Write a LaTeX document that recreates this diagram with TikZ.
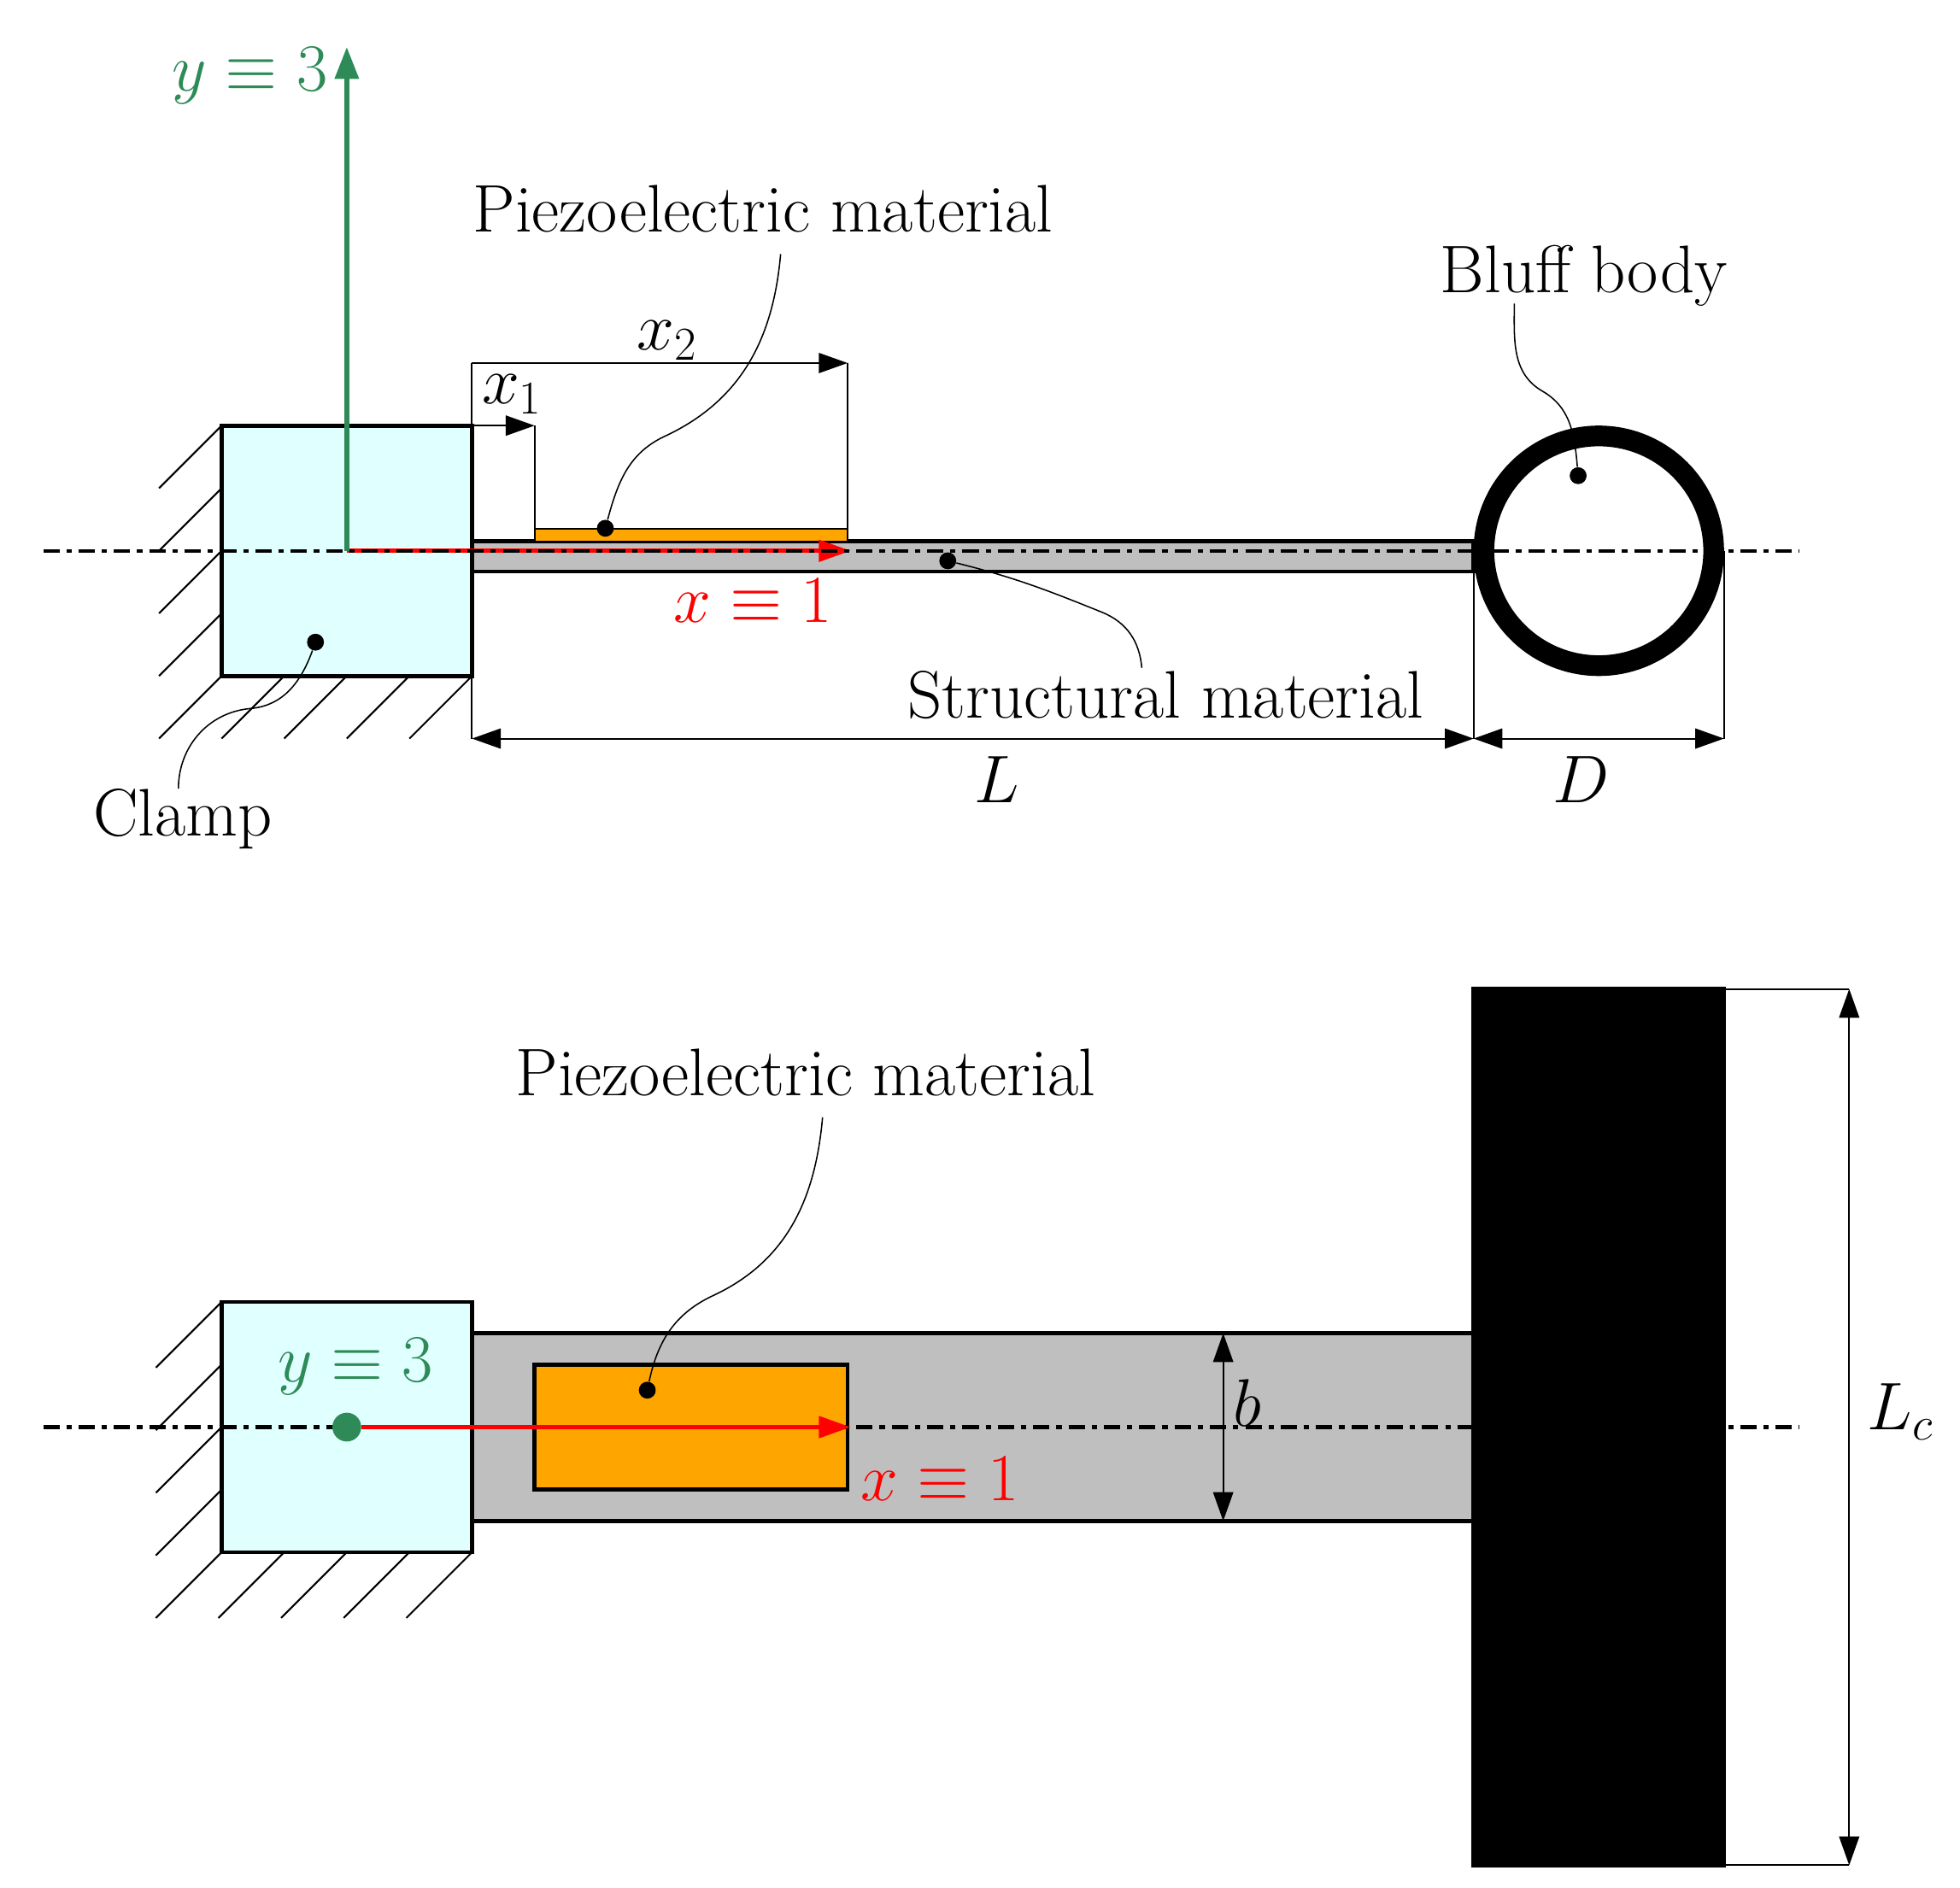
\documentclass[tikz,border=0pt]{standalone}
\usepackage{fix-cm}
\usepackage{amsmath}
\usepackage{amssymb}
\usepackage{tikz}
\usetikzlibrary{arrows.meta,positioning}
\definecolor{seagreen}{RGB}{46,139,87}
\definecolor{clampcol}{RGB}{224,255,255}
\definecolor{piezocol}{RGB}{255,165,0}
\definecolor{beamcol}{RGB}{191,191,191}
\begin{document}
\begin{tikzpicture}[%
  >={Triangle[length=0.46cm,width=0.32cm]},
  body/.style={draw,line width=1.8pt},
  hatch/.style={line width=0.8pt},
  dim/.style={line width=0.8pt},
  lead/.style={line width=0.6pt},
  axisline/.style={line width=1.6pt,dash pattern=on 7.4pt off 3.12pt on 2.42pt off 3.13pt},
  xaxis/.style={->,red,line width=2pt,>={Triangle[length=0.51cm,width=0.34cm]}},
  yaxis/.style={->,seagreen,line width=2.5pt,>={Triangle[length=0.51cm,width=0.37cm]}},
  blob/.style={circle,fill=black,inner sep=0pt,minimum size=0.27cm},
  txt/.style={font=\fontsize{30.6}{36}\selectfont,inner sep=0pt},
  ]
  \useasboundingbox (-5.54,-21.363) rectangle (25.77,8.80);

  %% Top view: shapes
  \foreach \yy in {2,1,0,-1}
    \draw[hatch] (-2,\yy) -- (-3,\yy-1);
  \foreach \xx in {-2,-1,0,1,2}
    \draw[hatch] (\xx,-2) -- (\xx-1,-3);
  \draw[body,fill=clampcol] (-2,-2) rectangle (2,2);
  \draw[body,fill=beamcol] (2,-0.33) rectangle (18,0.15);
  \draw[line width=0.8pt,fill=piezocol] (3,0.15) rectangle (8,0.35);
  \draw[line width=9.4pt] (20,0) circle (1.835);
  %% Top view: axes
  \coordinate (O) at (0,0);
  \coordinate (Ox) at (8.05,0);
  \coordinate (Oy) at (0,8.05);
  \draw[xaxis] (O) -- (Ox);
  \draw[yaxis] (O) -- (Oy);
  \coordinate (axL) at (-4.85,0);
  \coordinate (axR) at (23.2,0);
  \draw[axisline] (axL) -- (axR);
  %% Top view: dimensions
  \coordinate (x0a) at (2,3);
  \coordinate (x0b) at (2,2);
  \coordinate (x1a) at (3,2);
  \coordinate (x1b) at (3,0.35);
  \coordinate (x2a) at (8,3);
  \coordinate (x2b) at (8,0.35);
  \coordinate (La) at (2,-3);
  \coordinate (Lb) at (18,-3);
  \coordinate (La0) at (2,-2);
  \coordinate (Lb0) at (18,-0.33);
  \coordinate (Da) at (22,-3);
  \coordinate (Da0) at (22,0);
  \draw[dim] (x0a) -- (x0b);
  \draw[dim,->] (x0b) -- (x1a);
  \draw[dim] (x1a) -- (x1b);
  \draw[dim,->] (x0a) -- (x2a);
  \draw[dim] (x2a) -- (x2b);
  \draw[dim,<->] (La) -- (Lb);
  \draw[dim] (La0) -- (La);
  \draw[dim] (Lb0) -- (Lb);
  \draw[dim,<->] (Lb) -- (Da);
  \draw[dim] (Da0) -- (Da);
  %% Top view: labels
  \node[txt,seagreen] (ylab) at (-1.55,7.59) {$y\equiv3$};
  \node[txt,red] (xlab) at (6.49,-0.8) {$x\equiv1$};
  \node[txt] (x1lab) at (2.64,2.5) {$x_{1}$};
  \node[txt] (x2lab) at (5.12,3.36) {$x_{2}$};
  \node[txt] (Llab) at (10.38,-3.65) {$L$};
  \node[txt] (Dlab) at (19.72,-3.65) {$D$};
  \node[txt] (piezo) at (6.65,5.46) {Piezoelectric material};
  \node[txt] (bluff) at (19.76,4.4) {Bluff body};
  \node[txt] (struct) at (13.08,-2.3) {Structural material};
  \node[txt] (clamp) at (-2.62,-4.28) {Clamp};
  %% Top view: leaders
  \node[blob] (dp) at (4.13,0.36) {};
  \node[blob] (dc) at (-0.5,-1.46) {};
  \node[blob] (ds) at (9.6,-0.16) {};
  \node[blob] (db) at (19.67,1.2) {};
  \coordinate (pa) at (6.93,4.74);
  \coordinate (pm) at (5.08,1.83);
  \coordinate (ca) at (-2.69,-3.8);
  \coordinate (cm) at (-1.54,-2.52);
  \coordinate (sa) at (12.7,-1.87);
  \coordinate (sm) at (12.06,-0.98);
  \coordinate (ba) at (18.65,3.95);
  \coordinate (bm) at (19.1,2.55);
  \draw[lead] (dp) to[out=75,in=205] (pm) to[out=25,in=265] (pa);
  \draw[lead] (dc) to[out=-110,in=5] (cm) to[out=185,in=90] (ca);
  \draw[lead] (ds) to[out=-14,in=158] (sm) to[out=-22,in=95] (sa);
  \draw[lead] (db) to[out=95,in=-30] (bm) to[out=150,in=-90] (ba);

  %% Front view: shapes
  \foreach \yy in {2,1,0,-1}
    \draw[hatch] (-2,-14+\yy) -- (-3.05,-15.05+\yy);
  \foreach \xx in {-2,-1,0,1,2}
    \draw[hatch] (\xx,-16) -- (\xx-1.05,-17.05);
  \draw[body,fill=clampcol] (-2,-16) rectangle (2,-12);
  \draw[body,fill=beamcol] (2,-15.5) rectangle (18,-12.5);
  \draw[body,fill=piezocol] (3,-15) rectangle (8,-13);
  %% Front view: axes
  \coordinate (fL) at (-4.85,-14);
  \coordinate (fR) at (23.2,-14);
  \draw[axisline] (fL) -- (fR);
  \draw[body,fill=black] (18,-21) rectangle (22,-7);
  \node[circle,fill=seagreen,inner sep=0pt,minimum size=0.46cm] (fO) at (0,-14) {};
  \coordinate (fx) at (8.05,-14);
  \draw[xaxis] (fO) -- (fx);
  %% Front view: dimensions
  \coordinate (ba1) at (14,-12.5);
  \coordinate (ba2) at (14,-15.5);
  \coordinate (lc1) at (24,-7);
  \coordinate (lc2) at (24,-21);
  \coordinate (lc3) at (22,-7);
  \coordinate (lc4) at (22,-21);
  \draw[dim,<->] (ba1) -- (ba2);
  \draw[dim,<->] (lc1) -- (lc2);
  \draw[dim] (lc3) -- (lc1);
  \draw[dim] (lc4) -- (lc2);
  %% Front view: labels
  \node[txt,seagreen] (fylab) at (0.14,-13.04) {$y\equiv3$};
  \node[txt,red] (fxlab) at (9.48,-14.83) {$x\equiv1$};
  \node[txt] (blab) at (14.38,-13.61) {$b$};
  \node[txt] (Lclab) at (24.82,-13.75) {$L_{c}$};
  \node[txt] (fpiezo) at (7.33,-8.33) {Piezoelectric material};
  \node[blob] (fd) at (4.8,-13.41) {};
  \coordinate (fa) at (7.6,-9.05);
  \coordinate (fm) at (5.85,-11.9);
  \draw[lead] (fd) to[out=78,in=205] (fm) to[out=25,in=265] (fa);
\end{tikzpicture}
\end{document}
